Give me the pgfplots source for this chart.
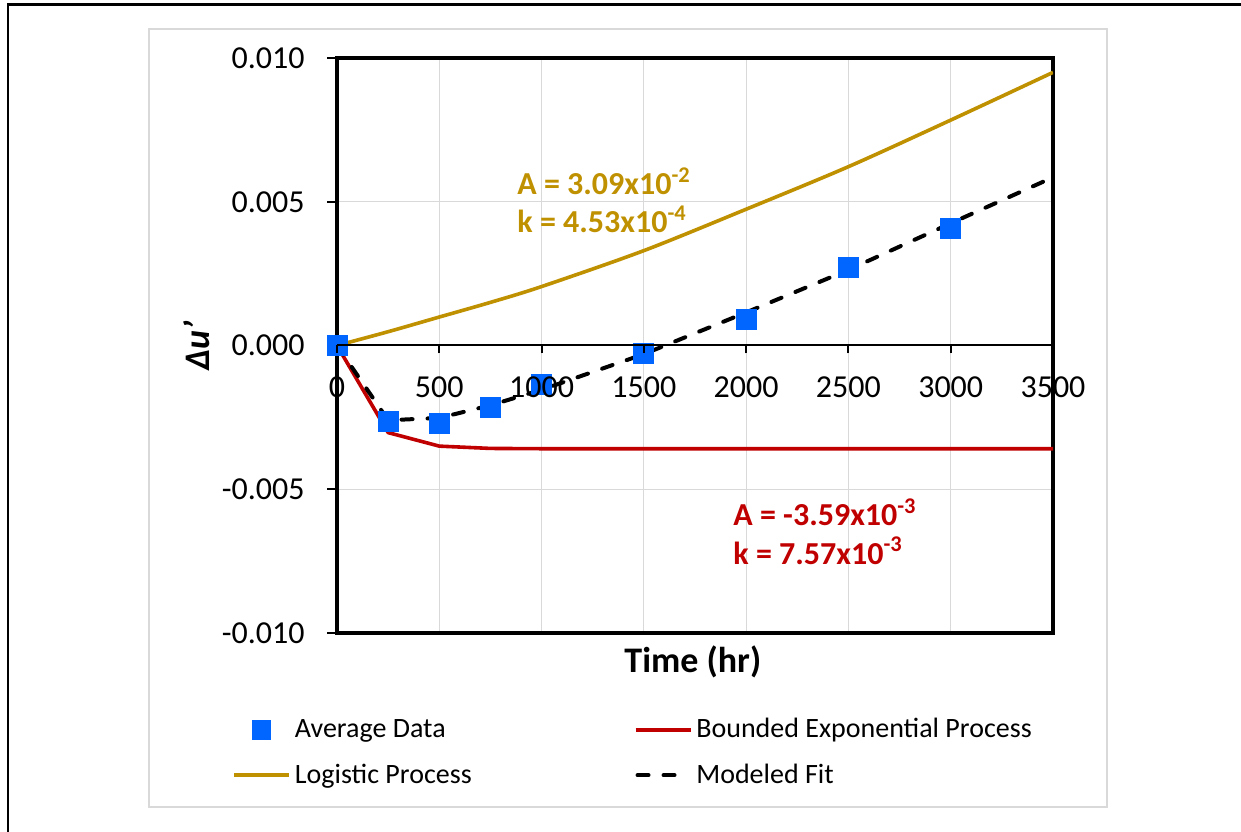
\documentclass[border=0pt]{standalone}
\usepackage{fontspec}
\setmainfont{Carlito}
\usepackage{pgfplots}
\pgfplotsset{compat=1.18}
\definecolor{avgblue}{RGB}{0,102,255}
\definecolor{goldc}{RGB}{191,144,0}
\definecolor{redc}{RGB}{192,0,0}
\definecolor{gridgrey}{RGB}{217,217,217}
\pgfplotsset{
  lineleg/.style={legend image code/.code={\draw[##1] (0pt,0pt) -- (27.5pt,0pt);}},
  dashleg/.style={legend image code/.code={\draw[##1] (1pt,0pt) -- (22pt,0pt);}},
  markleg/.style={legend image code/.code={\draw[mark repeat=2,mark phase=2,##1] plot coordinates {(0pt,0pt) (13.75pt,0pt) (27.5pt,0pt)};}},
}
\begin{document}
\begin{tikzpicture}
\path[use as bounding box] (0pt,0pt) rectangle (620.5pt,415.5pt);
\draw[line width=1.4pt] (4pt,-2pt) -- (4pt,413.2pt) -- (622pt,413.2pt);
\draw[gridgrey, line width=0.8pt] (74.5pt,12pt) rectangle (553.5pt,401pt);
\begin{axis}[
  at={(168.5pt,99pt)}, anchor=south west,
  scale only axis, width=358pt, height=287.5pt,
  xmin=0, xmax=3500, ymin=-0.01, ymax=0.01,
  scaled y ticks=false, scaled x ticks=false,
  xtick={0,500,...,3500}, xticklabels={},
  xtick style={draw=none},
  ytick={-0.01,-0.005,0,0.005,0.01},
  yticklabels={-0.010,-0.005,0.000,0.005,0.010},
  ytick pos=left,
  tick align=outside,
  major tick length=5pt,
  ytick style={black, line width=1pt},
  yticklabel style={font=\fontsize{16}{19}\selectfont, anchor=east, inner sep=0pt, xshift=-11pt},
  grid=major,
  grid style={gridgrey, line width=0.6pt},
  axis line style={black, line width=1.8pt},
  xlabel={\bfseries Time (hr)},
  every axis x label/.style={at={(axis description cs:0.497,-0.0499)}, anchor=center, font=\fontsize{18}{21}\selectfont},
  ylabel={\bfseries\itshape Δu’},
  every axis y label/.style={at={(axis description cs:-0.1955,0.499)}, anchor=center, rotate=90, font=\fontsize{18}{21}\selectfont},
  legend columns=2,
  legend cell align=left,
  legend style={at={(axis description cs:-0.1467,-0.2078)}, anchor=west, draw=none, fill=none, inner sep=0pt,
    font=\fontsize{14}{17}\selectfont, row sep=7.5pt,
    /tikz/every even column/.append style={column sep=79pt}},
]
\addlegendimage{only marks, mark=square*, mark size=4.6pt, color=avgblue, markleg}
\addlegendentry{Average Data}
\addlegendimage{redc, line width=1.8pt, lineleg}
\addlegendentry{Bounded Exponential Process}
\addlegendimage{goldc, line width=1.8pt, lineleg}
\addlegendentry{Logistic Process}
\addlegendimage{black, line width=2pt, line cap=round, dash pattern=on 5.5pt off 7.5pt, dashleg}
\addlegendentry{Modeled Fit}

\addplot[forget plot, redc, line width=1.8pt, line join=round] coordinates {
 (0,0) (250,-0.00303) (500,-0.00350) (750,-0.00358) (1000,-0.00359) (1500,-0.00359)
 (2000,-0.00359) (2500,-0.00359) (3000,-0.00359) (3500,-0.00359)};
\addplot[forget plot, goldc, line width=1.8pt, smooth] coordinates {
 (0,0) (250,0.00048) (500,0.00099) (750,0.00150) (1000,0.00205) (1500,0.00330)
 (2000,0.00474) (2500,0.00622) (3000,0.00784) (3500,0.00950)};
\addplot[forget plot, black, line width=2pt, line cap=round, line join=round, dash pattern=on 5.5pt off 7.5pt] coordinates {
 (0,0) (250,-0.00260) (500,-0.00252) (750,-0.00208) (1000,-0.00154) (1500,-0.00030)
 (2000,0.00115) (2500,0.00263) (3000,0.00425) (3500,0.00585)};
\addplot[forget plot, only marks, mark=square*, mark size=5pt, avgblue] coordinates {
 (0,0) (250,-0.00263) (500,-0.00270) (750,-0.00217) (1000,-0.00137) (1500,-0.00026)
 (2000,0.00092) (2500,0.00273) (3000,0.00409)};

\node[goldc, anchor=base west, inner sep=0pt, font=\fontsize{16}{19}\selectfont\bfseries] at (axis cs:880,0.005235) {A = 3.09x10\textsuperscript{-2}};
\node[goldc, anchor=base west, inner sep=0pt, font=\fontsize{16}{19}\selectfont\bfseries] at (axis cs:880,0.003913) {k = 4.53x10\textsuperscript{-4}};
\node[redc, anchor=base west, inner sep=0pt, font=\fontsize{16}{19}\selectfont\bfseries] at (axis cs:1936,-0.006278) {A = -3.59x10\textsuperscript{-3}};
\node[redc, anchor=base west, inner sep=0pt, font=\fontsize{16}{19}\selectfont\bfseries] at (axis cs:1936,-0.0076) {k = 7.57x10\textsuperscript{-3}};
\end{axis}
\begin{axis}[
  at={(168.5pt,99pt)}, anchor=south west,
  scale only axis, width=358pt, height=287.5pt,
  xmin=0, xmax=3500, ymin=-0.01, ymax=0.01,
  scaled x ticks=false,
  axis x line*=middle, axis y line=none,
  x axis line style={black, line width=1pt},
  xtick={0,500,...,3500},
  xticklabels={0,500,1000,1500,2000,2500,3000,3500},
  tick align=outside, major tick length=4pt,
  xtick style={black, line width=1pt},
  ytick=\empty,
  xticklabel style={font=\fontsize{16}{19}\selectfont, anchor=base, inner sep=0pt, yshift=-22pt},
]
\end{axis}
\end{tikzpicture}
\end{document}
